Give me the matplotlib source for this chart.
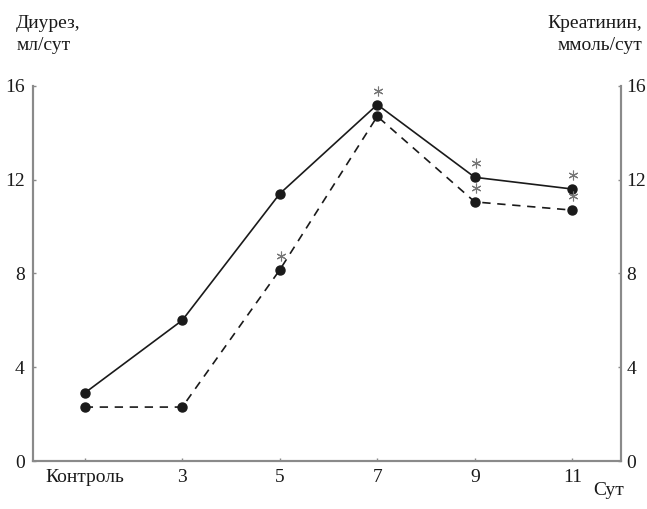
import matplotlib
matplotlib.use("Agg")
import matplotlib.pyplot as plt
from matplotlib.transforms import ScaledTranslation

categories = ["Контроль", "3", "5", "7", "9", "11"]
diuresis = [2.9, 6.0, 11.4, 15.2, 12.1, 11.6]
creatinine = [2.3, 2.3, 8.15, 14.7, 11.05, 10.7]
star_solid = [False, False, False, True, True, True]
star_dashed = [False, False, True, False, True, True]
yticks = [0, 4, 8, 12, 16]

plt.rcParams['font.family'] = ['Liberation Serif', 'DejaVu Serif']
fig = plt.figure(figsize=(6.47, 5.09), dpi=100)
ax = fig.add_axes([0.051, 0.0943, 0.909, 0.737])
x = list(range(len(categories)))

ax.plot(x, diuresis, '-', color='#1a1a1a', lw=1.2, marker='o', ms=6.5, zorder=3)
ax.plot(x, creatinine, color='#1a1a1a', lw=1.2, ls=(0, (5, 4)), marker='o', ms=6.5, zorder=3)

star_tr = ax.transData + ScaledTranslation(1 / 100, 14 / 100, fig.dpi_scale_trans)
sx = [xi for xi, s in zip(x, star_solid) if s]
sy = [yi for yi, s in zip(diuresis, star_solid) if s]
dx = [xi for xi, s in zip(x, star_dashed) if s]
dy = [yi for yi, s in zip(creatinine, star_dashed) if s]
for px, py in ((sx, sy), (dx, dy)):
    ax.plot(px, py, ls='none', marker=(6, 2, 0), ms=7, mew=0.8, color='#777777',
            transform=star_tr, zorder=4, clip_on=False)

ax.set_xlim(-0.53, 5.5)
ax.set_ylim(0, 16)
ax.set_xticks(x)
ax.set_xticklabels(categories)
ax.set_yticks(yticks)
ax.set_yticklabels([str(v) for v in yticks])

ax2 = ax.twinx()
ax2.set_ylim(0, 16)
ax2.set_yticks(yticks)
ax2.set_yticklabels([str(v) for v in yticks])

for a in (ax, ax2):
    a.spines['top'].set_visible(False)
    for s in ('left', 'right', 'bottom'):
        a.spines[s].set_color('#8a8a8a')
        a.spines[s].set_linewidth(1.5)
    a.tick_params(direction='in', length=2, width=1, color='#8a8a8a',
                  labelsize=14, labelcolor='#1a1a1a')
ax.tick_params(axis='x', pad=6)
ax.tick_params(axis='y', pad=6)
ax2.tick_params(axis='y', pad=4)

fig.text(0.025, 0.97, "Диурез,\nмл/сут", ha='left', va='top', fontsize=14,
         color='#1a1a1a', linespacing=1.4)
fig.text(0.993, 0.97, "Креатинин,\nммоль/сут", ha='right', va='top', fontsize=14,
         color='#1a1a1a', linespacing=1.4, multialignment='right')
fig.text(0.965, 0.02, "Сут", ha='right', va='bottom', fontsize=14, color='#1a1a1a')

fig.savefig("out.png", dpi=100)
